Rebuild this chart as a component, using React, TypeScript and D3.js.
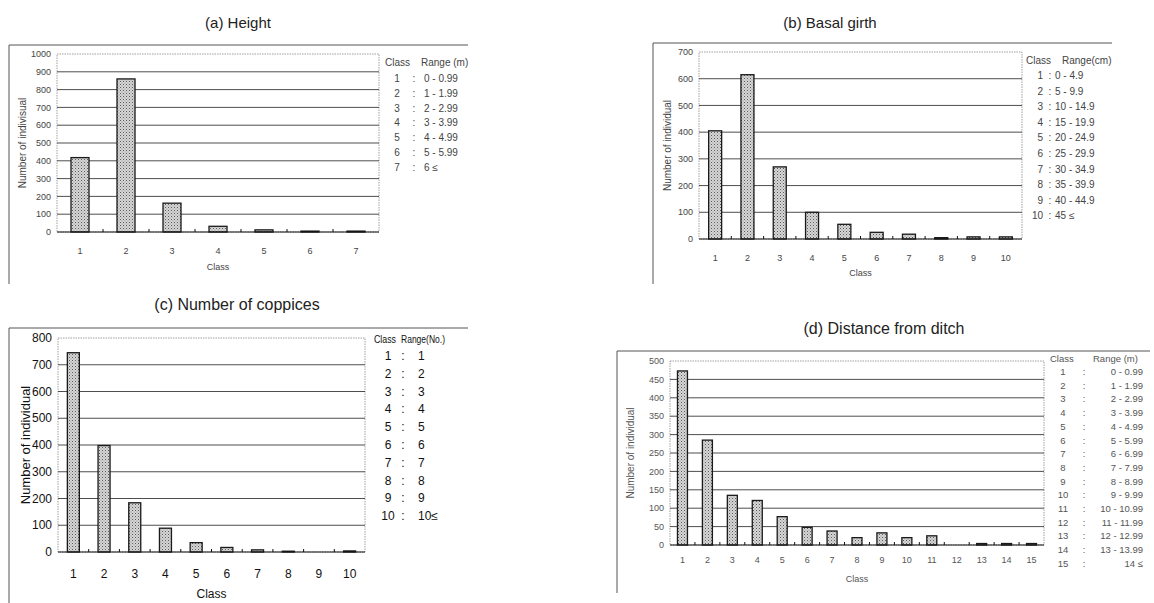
import * as d3 from 'd3'
import React from 'react'

// values
const heightClasses = ['1', '2', '3', '4', '5', '6', '7']
const heightCounts = [418, 860, 162, 32, 12, 5, 5]
const heightRanges = ['0 - 0.99', '1 - 1.99', '2 - 2.99', '3 - 3.99', '4 - 4.99', '5 - 5.99', '6 ≤']
const heightTicks = [0, 100, 200, 300, 400, 500, 600, 700, 800, 900, 1000]

const girthClasses = ['1', '2', '3', '4', '5', '6', '7', '8', '9', '10']
const girthCounts = [405, 615, 270, 100, 55, 25, 18, 5, 8, 8]
const girthRanges = ['0 - 4.9', '5 - 9.9', '10 - 14.9', '15 - 19.9', '20 - 24.9', '25 - 29.9', '30 - 34.9', '35 - 39.9', '40 - 44.9', '45 ≤']
const girthTicks = [0, 100, 200, 300, 400, 500, 600, 700]

const coppiceClasses = ['1', '2', '3', '4', '5', '6', '7', '8', '9', '10']
const coppiceCounts = [745, 398, 184, 89, 35, 17, 8, 3, 0, 4]
const coppiceRanges = ['1', '2', '3', '4', '5', '6', '7', '8', '9', '10≤']
const coppiceTicks = [0, 100, 200, 300, 400, 500, 600, 700, 800]

const ditchClasses = ['1', '2', '3', '4', '5', '6', '7', '8', '9', '10', '11', '12', '13', '14', '15']
const ditchCounts = [473, 285, 135, 121, 77, 48, 38, 20, 33, 20, 25, 0, 4, 4, 4]
const ditchRanges = ['0 - 0.99', '1 - 1.99', '2 - 2.99', '3 - 3.99', '4 - 4.99', '5 - 5.99', '6 - 6.99', '7 - 7.99', '8 - 8.99', '9 - 9.99', '10 - 10.99', '11 - 11.99', '12 - 12.99', '13 - 13.99', '14 ≤']
const ditchTicks = [0, 50, 100, 150, 200, 250, 300, 350, 400, 450, 500]

const FONT = '"Liberation Sans", Arial, sans-serif'

type PanelProps = {
  title: string
  titleX: number
  titleY: number
  titleSize: number
  frame: { x1: number; x2: number; y: number; bottom: number }
  plot: { left: number; right: number; top: number; bottom: number }
  classes: string[]
  counts: number[]
  ticks: number[]
  barWidth: number
  yLabel: string
  yLabelX: number
  tickSize: number
  tickColor: string
  catY: number
  classY: number
  legend: {
    classes: string[]
    ranges: string[]
    header: [string, string]
    headerY: number
    headerX: [number, number]
    headerSize?: number
    headerSquash?: boolean
    rowY: number
    rowStep: number
    numX: number
    numAnchor: 'middle' | 'end'
    colonX: number
    rangeX: number
    rangeAnchor: 'start' | 'end'
    size: number
  }
}

const Panel = (p: PanelProps) => {
  const x = d3.scaleBand<string>().domain(p.classes).range([p.plot.left, p.plot.right])
  const y = d3
    .scaleLinear()
    .domain([0, d3.max(p.ticks) ?? 1])
    .range([p.plot.bottom, p.plot.top])
  const bw = p.barWidth
  const lg = p.legend
  const hs = lg.headerSize ?? lg.size

  return (
    <g>
      <text x={p.titleX} y={p.titleY} textAnchor="middle" fontFamily={FONT} fontSize={p.titleSize} fill="#222">
        {p.title}
      </text>
      {/* outer frame */}
      <line x1={p.frame.x1} x2={p.frame.x2} y1={p.frame.y} y2={p.frame.y} stroke="#555" strokeWidth={1} />
      <line x1={p.frame.x1} x2={p.frame.x1} y1={p.frame.y} y2={p.frame.bottom} stroke="#555" strokeWidth={1} />

      {/* plot area border */}
      <rect
        x={p.plot.left}
        y={p.plot.top}
        width={p.plot.right - p.plot.left}
        height={p.plot.bottom - p.plot.top}
        fill="none"
        stroke="#888"
        strokeWidth={0.8}
        strokeDasharray="1.5,1"
      />
      {p.ticks.slice(1, -1).map((t) => (
        <line key={t} x1={p.plot.left} x2={p.plot.right} y1={y(t)} y2={y(t)} stroke="#3a3a3a" strokeWidth={0.9} />
      ))}
      {p.ticks.map((t) => (
        <text
          key={'t' + t}
          x={p.plot.left - 6}
          y={y(t)}
          dy="0.35em"
          textAnchor="end"
          fontFamily={FONT}
          fontSize={p.tickSize}
          fill={p.tickColor}
        >
          {t}
        </text>
      ))}

      {p.classes.map((c, i) => (
        <rect
          key={'b' + c}
          x={(x(c) ?? 0) + x.bandwidth() / 2 - bw / 2}
          y={y(p.counts[i])}
          width={bw}
          height={p.plot.bottom - y(p.counts[i])}
          fill="url(#stipple)"
          stroke="#1a1a1a"
          strokeWidth={1.3}
        />
      ))}

      {/* x axis */}
      <line x1={p.plot.left} x2={p.plot.right} y1={p.plot.bottom} y2={p.plot.bottom} stroke="#111" strokeWidth={1.2} />
      {p.classes.slice(1).map((c) => (
        <line key={'k' + c} x1={x(c)} x2={x(c)} y1={p.plot.bottom} y2={p.plot.bottom - 3} stroke="#111" strokeWidth={1} />
      ))}
      {p.classes.map((c) => (
        <text
          key={'c' + c}
          x={(x(c) ?? 0) + x.bandwidth() / 2}
          y={p.catY}
          textAnchor="middle"
          fontFamily={FONT}
          fontSize={p.tickSize}
          fill={p.tickColor}
        >
          {c}
        </text>
      ))}
      <text
        x={(p.plot.left + p.plot.right) / 2}
        y={p.classY}
        textAnchor="middle"
        fontFamily={FONT}
        fontSize={p.tickSize}
        fill={p.tickColor}
      >
        Class
      </text>
      <text
        transform={`translate(${p.yLabelX},${(p.plot.top + p.plot.bottom) / 2}) rotate(-90)`}
        textAnchor="middle"
        dy="0.35em"
        fontFamily={FONT}
        fontSize={p.tickSize + 1}
        fill={p.tickColor}
      >
        {p.yLabel}
      </text>

      {/* legend */}
      <text
        x={lg.headerX[0]}
        y={lg.headerY}
        fontFamily={FONT}
        fontSize={hs}
        fill={p.tickColor}
        textLength={lg.headerSquash ? 22 : undefined}
        lengthAdjust="spacingAndGlyphs"
      >
        {lg.header[0]}
      </text>
      <text
        x={lg.headerX[1]}
        y={lg.headerY}
        fontFamily={FONT}
        fontSize={hs}
        fill={p.tickColor}
        textLength={lg.headerSquash ? 44 : undefined}
        lengthAdjust="spacingAndGlyphs"
      >
        {lg.header[1]}
      </text>
      {lg.classes.map((c, i) => (
        <g key={'l' + c} fontFamily={FONT} fontSize={lg.size} fill={p.tickColor}>
          <text x={lg.numX} y={lg.rowY + i * lg.rowStep} textAnchor={lg.numAnchor}>
            {c}
          </text>
          <text x={lg.colonX} y={lg.rowY + i * lg.rowStep} textAnchor="middle">
            :
          </text>
          <text x={lg.rangeX} y={lg.rowY + i * lg.rowStep} textAnchor={lg.rangeAnchor}>
            {lg.ranges[i]}
          </text>
        </g>
      ))}
    </g>
  )
}

export default function App() {
  return (
    <svg width={1154} height={603} style={{ position: 'absolute', left: 0, top: 0, background: '#fff' }}>
      <defs>
        <pattern id="stipple" width={3} height={3} patternUnits="userSpaceOnUse">
          <rect width={3} height={3} fill="#d6d6d6" />
          <rect x={0} y={0} width={1} height={1} fill="#5a5a5a" />
          <rect x={1.5} y={1.5} width={1} height={1} fill="#8a8a8a" />
        </pattern>
      </defs>

      <Panel
        title="(a) Height"
        titleX={238}
        titleY={28}
        titleSize={15}
        frame={{ x1: 9, x2: 468, y: 45, bottom: 284 }}
        plot={{ left: 57, right: 379, top: 54, bottom: 232 }}
        classes={heightClasses}
        counts={heightCounts}
        ticks={heightTicks}
        barWidth={18}
        yLabel="Number of indivisual"
        yLabelX={22}
        tickSize={9}
        tickColor="#444"
        catY={254}
        classY={270}
        legend={{
          classes: heightClasses,
          ranges: heightRanges,
          header: ['Class', 'Range (m)'],
          headerY: 66,
          headerX: [385, 421],
          rowY: 82,
          rowStep: 14.8,
          numX: 397,
          numAnchor: 'middle',
          colonX: 414,
          rangeX: 424,
          rangeAnchor: 'start',
          size: 10,
        }}
      />

      <Panel
        title="(b) Basal girth"
        titleX={830}
        titleY={28}
        titleSize={15}
        frame={{ x1: 653, x2: 1112, y: 43, bottom: 284 }}
        plot={{ left: 699, right: 1022, top: 52, bottom: 239 }}
        classes={girthClasses}
        counts={girthCounts}
        ticks={girthTicks}
        barWidth={13}
        yLabel="Number of individual"
        yLabelX={667}
        tickSize={9}
        tickColor="#444"
        catY={261}
        classY={276}
        legend={{
          classes: girthClasses,
          ranges: girthRanges,
          header: ['Class', 'Range(cm)'],
          headerY: 64,
          headerX: [1026, 1062],
          rowY: 79,
          rowStep: 15.6,
          numX: 1043,
          numAnchor: 'end',
          colonX: 1050,
          rangeX: 1055,
          rangeAnchor: 'start',
          size: 10,
        }}
      />

      <Panel
        title="(c) Number of coppices"
        titleX={237}
        titleY={310}
        titleSize={16}
        frame={{ x1: 9, x2: 468, y: 328, bottom: 603 }}
        plot={{ left: 58, right: 365, top: 338, bottom: 552 }}
        classes={coppiceClasses}
        counts={coppiceCounts}
        ticks={coppiceTicks}
        barWidth={12}
        yLabel="Number of individual"
        yLabelX={25}
        tickSize={12}
        tickColor="#111"
        catY={578}
        classY={598}
        legend={{
          classes: coppiceClasses,
          ranges: coppiceRanges,
          header: ['Class', 'Range(No.)'],
          headerY: 343,
          headerX: [374, 401],
          headerSize: 11,
          headerSquash: true,
          rowY: 360,
          rowStep: 17.8,
          numX: 388,
          numAnchor: 'middle',
          colonX: 403,
          rangeX: 418,
          rangeAnchor: 'start',
          size: 12,
        }}
      />

      <Panel
        title="(d) Distance from ditch"
        titleX={884}
        titleY={334}
        titleSize={16}
        frame={{ x1: 617, x2: 1150, y: 351, bottom: 593 }}
        plot={{ left: 670, right: 1044, top: 361, bottom: 545 }}
        classes={ditchClasses}
        counts={ditchCounts}
        ticks={ditchTicks}
        barWidth={10}
        yLabel="Number of individual"
        yLabelX={630}
        tickSize={9}
        tickColor="#555"
        catY={563}
        classY={582}
        legend={{
          classes: ditchClasses,
          ranges: ditchRanges,
          header: ['Class', 'Range (m)'],
          headerY: 362,
          headerX: [1050, 1093],
          rowY: 375,
          rowStep: 13.7,
          numX: 1063,
          numAnchor: 'middle',
          colonX: 1084,
          rangeX: 1143,
          rangeAnchor: 'end',
          size: 9.5,
        }}
      />
    </svg>
  )
}
